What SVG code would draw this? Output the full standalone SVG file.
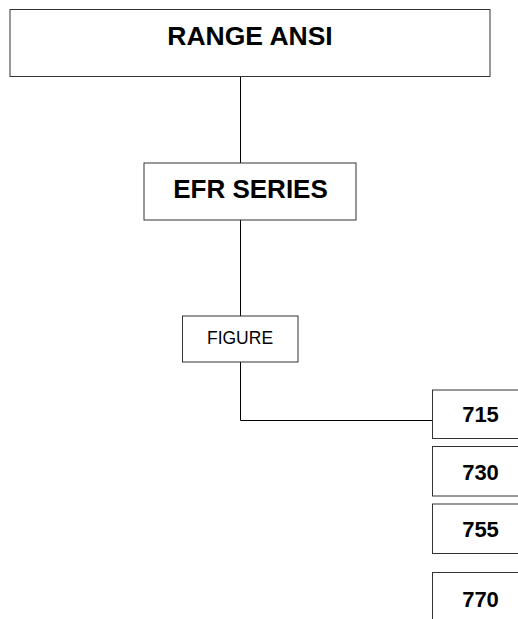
<svg xmlns="http://www.w3.org/2000/svg" width="518" height="619" viewBox="0 0 518 619">
<style>
.box{fill:#fff;stroke:#333;stroke-width:1}
.t{font-family:"Liberation Sans",Arial,sans-serif;fill:#000;text-anchor:middle}
.b{font-weight:bold}
.c{fill:none;stroke:#000;stroke-width:1}
</style>
<rect width="518" height="619" fill="#fff"/>
<g id="connectors">
<path class="c" d="M240.5 77V163"/>
<path class="c" d="M240.5 220V316"/>
<path class="c" d="M240.5 362V420.5H433"/>
</g>
<g id="range-ansi">
<rect class="box" x="10" y="9.5" width="480" height="67"/>
<text class="t b" x="250" y="45" font-size="26.5">RANGE ANSI</text>
</g>
<g id="efr-series">
<rect class="box" x="144" y="163" width="212" height="57"/>
<text class="t b" x="250.5" y="198.3" font-size="26">EFR SERIES</text>
</g>
<g id="figure">
<rect class="box" x="182.5" y="316" width="115.5" height="46"/>
<text class="t" x="240" y="344.3" font-size="17.5">FIGURE</text>
</g>
<g id="n715">
<rect class="box" x="432.5" y="390" width="95" height="48.5"/>
<text class="t b" x="480.5" y="422.3" font-size="22">715</text>
</g>
<g id="n730">
<rect class="box" x="432.5" y="446.5" width="95" height="49.5"/>
<text class="t b" x="480.5" y="480" font-size="22">730</text>
</g>
<g id="n755">
<rect class="box" x="432.5" y="504" width="95" height="49.5"/>
<text class="t b" x="480.5" y="536.7" font-size="22">755</text>
</g>
<g id="n770">
<rect class="box" x="432.5" y="572.5" width="95" height="60"/>
<text class="t b" x="480.5" y="607.3" font-size="22">770</text>
</g>
</svg>
